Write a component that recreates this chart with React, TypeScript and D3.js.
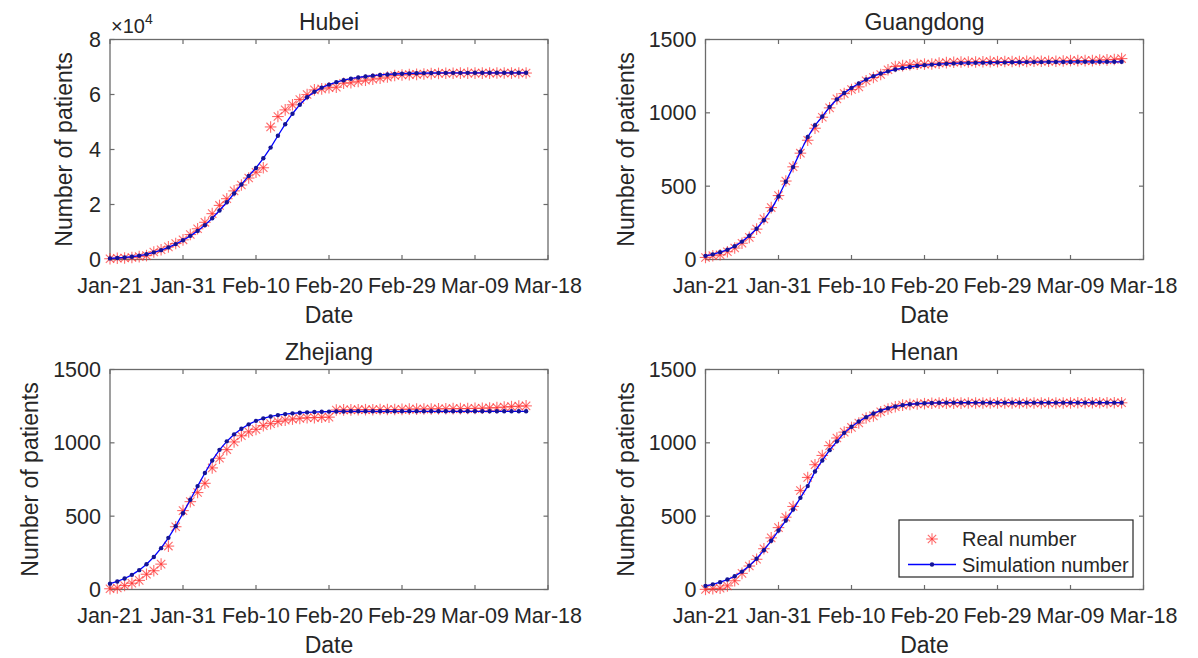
import React from "react";
import * as d3 from "d3";

// ---------- data (day index 0 = Jan-21) ----------
const xTickValues = [0, 10, 20, 30, 40, 50, 60];
const xTickLabels = ["Jan-21", "Jan-31", "Feb-10", "Feb-20", "Feb-29", "Mar-09", "Mar-18"];

const hubeiReal = [270, 444, 549, 729, 1052, 1423, 2714, 3554, 4586, 5806, 7153, 9074, 11177, 13522, 16678, 19665, 22112, 24953, 27100, 29631, 31728, 33366, 48206, 51986, 54406, 56249, 58182, 59989, 61682, 62031, 62442, 62662, 64084, 64287, 64786, 65187, 65596, 65914, 66337, 66907, 67103, 67217, 67332, 67466, 67592, 67666, 67707, 67743, 67760, 67773, 67781, 67786, 67790, 67794, 67798, 67799, 67800, 67800];
const hubeiSim = [400, 550, 750, 1000, 1400, 1900, 2600, 3400, 4400, 5600, 7000, 8600, 10400, 12500, 15000, 17800, 20800, 24000, 27300, 30400, 33300, 36800, 40700, 45000, 49200, 53000, 56300, 59000, 61000, 62500, 63600, 64500, 65200, 65750, 66200, 66550, 66850, 67100, 67300, 67450, 67570, 67660, 67730, 67780, 67820, 67850, 67860, 67870, 67875, 67880, 67885, 67888, 67890, 67892, 67894, 67896, 67898, 67900];

const guangdongReal = [14, 26, 32, 53, 78, 111, 151, 207, 277, 354, 436, 535, 632, 725, 813, 895, 970, 1034, 1095, 1131, 1159, 1177, 1219, 1241, 1261, 1294, 1316, 1322, 1328, 1331, 1332, 1333, 1339, 1342, 1345, 1347, 1347, 1347, 1348, 1349, 1349, 1350, 1350, 1350, 1351, 1352, 1352, 1352, 1352, 1353, 1356, 1356, 1356, 1356, 1360, 1361, 1364, 1370];
const guangdongSim = [25, 35, 50, 66, 90, 122, 162, 210, 268, 340, 430, 530, 630, 735, 835, 915, 975, 1040, 1092, 1135, 1170, 1200, 1227, 1250, 1268, 1283, 1295, 1305, 1313, 1320, 1325, 1329, 1332, 1335, 1337, 1339, 1340, 1341, 1342, 1343, 1344, 1344, 1345, 1345, 1346, 1346, 1346, 1347, 1347, 1347, 1347, 1348, 1348, 1348, 1348, 1348, 1348, 1348];

const zhejiangReal = [5, 10, 27, 43, 62, 104, 128, 173, 296, 428, 538, 599, 661, 724, 829, 895, 954, 1006, 1048, 1075, 1092, 1117, 1131, 1145, 1155, 1162, 1167, 1171, 1172, 1174, 1175, 1224, 1225, 1225, 1226, 1226, 1226, 1227, 1227, 1227, 1228, 1230, 1230, 1231, 1231, 1232, 1232, 1233, 1233, 1234, 1235, 1236, 1238, 1240, 1244, 1247, 1250, 1252];
const zhejiangSim = [40, 55, 75, 100, 132, 172, 222, 282, 352, 432, 520, 612, 705, 794, 880, 952, 1010, 1058, 1096, 1126, 1150, 1167, 1180, 1189, 1196, 1201, 1205, 1208, 1210, 1212, 1213, 1214, 1214, 1215, 1215, 1215, 1215, 1215, 1215, 1215, 1215, 1215, 1215, 1215, 1215, 1215, 1215, 1215, 1215, 1215, 1215, 1215, 1215, 1215, 1215, 1215, 1215, 1215];

const henanReal = [1, 5, 9, 25, 60, 110, 160, 206, 278, 352, 422, 493, 566, 675, 764, 851, 914, 981, 1033, 1073, 1105, 1135, 1169, 1184, 1212, 1231, 1246, 1257, 1262, 1265, 1267, 1270, 1271, 1271, 1271, 1271, 1272, 1272, 1272, 1272, 1272, 1272, 1272, 1272, 1272, 1272, 1272, 1272, 1272, 1272, 1272, 1273, 1273, 1273, 1273, 1273, 1273, 1273];
const henanSim = [25, 35, 50, 68, 90, 122, 162, 210, 268, 332, 402, 470, 545, 625, 705, 805, 880, 950, 1010, 1068, 1110, 1145, 1175, 1200, 1220, 1236, 1248, 1257, 1263, 1267, 1270, 1272, 1273, 1274, 1274, 1274, 1274, 1274, 1274, 1274, 1274, 1274, 1274, 1274, 1274, 1274, 1274, 1274, 1274, 1274, 1274, 1274, 1274, 1274, 1274, 1274, 1274, 1274];

const hubeiTicks = [0, 20000, 40000, 60000, 80000];
const provinceTicks = [0, 500, 1000, 1500];

const legendLabels = ["Real number", "Simulation number"];

// ---------- layout ----------
const W = 1198;
const H = 658;
const AW = 438;
const AH = 220;
const FONT = "'Liberation Sans', Arial, Helvetica, sans-serif";
const TXT = "#262626";
const AXC = "#6b6b6b";
const RED = "#ff3030";
const BLUE = "#0000ff";
const DOT = "#141496";
const TICK_FS = 21.5;
const LABEL_FS = 23;

type Panel = {
  title: string;
  real: number[];
  sim: number[];
  yMax: number;
  yTicks: number[];
  fmt: (v: number) => string;
  exponent: boolean;
  left: number;
  top: number;
  ylabelOffset: number;
  legend: boolean;
};

const panels: Panel[] = [
  { title: "Hubei", real: hubeiReal, sim: hubeiSim, yMax: 80000, yTicks: hubeiTicks, fmt: (v) => String(v / 10000), exponent: true, left: 110, top: 39.5, ylabelOffset: 38, legend: false },
  { title: "Guangdong", real: guangdongReal, sim: guangdongSim, yMax: 1500, yTicks: provinceTicks, fmt: (v) => String(v), exponent: false, left: 705.5, top: 39.5, ylabelOffset: 72, legend: false },
  { title: "Zhejiang", real: zhejiangReal, sim: zhejiangSim, yMax: 1500, yTicks: provinceTicks, fmt: (v) => String(v), exponent: false, left: 110, top: 369.5, ylabelOffset: 72, legend: false },
  { title: "Henan", real: henanReal, sim: henanSim, yMax: 1500, yTicks: provinceTicks, fmt: (v) => String(v), exponent: false, left: 705.5, top: 369.5, ylabelOffset: 72, legend: true },
];

function Asterisk({ x, y, s = 5.8 }: { x: number; y: number; s?: number }) {
  const d = s * 0.72;
  return (
    <g stroke={RED} strokeWidth={1.1} strokeOpacity={0.72}>
      <line x1={x - s} y1={y} x2={x + s} y2={y} />
      <line x1={x} y1={y - s} x2={x} y2={y + s} />
      <line x1={x - d} y1={y - d} x2={x + d} y2={y + d} />
      <line x1={x - d} y1={y + d} x2={x + d} y2={y - d} />
    </g>
  );
}

function Subplot({ p }: { p: Panel }) {
  const x = d3.scaleLinear().domain([0, 60]).range([p.left, p.left + AW]);
  const y = d3.scaleLinear().domain([0, p.yMax]).range([p.top + AH, p.top]);
  const line = d3
    .line<number>()
    .x((_, i) => x(i))
    .y((v) => y(v));
  const bottom = p.top + AH;
  const right = p.left + AW;
  const tl = 4.5;
  return (
    <g>
      <rect x={p.left} y={p.top} width={AW} height={AH} fill="#fff" stroke={AXC} strokeWidth={1.3} />
      {xTickValues.map((t, i) => (
        <g key={"xt" + i}>
          <line x1={x(t)} x2={x(t)} y1={bottom} y2={bottom - tl} stroke={AXC} strokeWidth={1.2} />
          <line x1={x(t)} x2={x(t)} y1={p.top} y2={p.top + tl} stroke={AXC} strokeWidth={1.2} />
          <text x={x(t)} y={bottom + 33} textAnchor="middle" fontSize={TICK_FS} fill={TXT} fontFamily={FONT}>
            {xTickLabels[i]}
          </text>
        </g>
      ))}
      {p.yTicks.map((t, i) => (
        <g key={"yt" + i}>
          <line x1={p.left} x2={p.left + tl} y1={y(t)} y2={y(t)} stroke={AXC} strokeWidth={1.2} />
          <line x1={right} x2={right - tl} y1={y(t)} y2={y(t)} stroke={AXC} strokeWidth={1.2} />
          <text x={p.left - 9} y={y(t) + 7.5} textAnchor="end" fontSize={TICK_FS} fill={TXT} fontFamily={FONT}>
            {p.fmt(t)}
          </text>
        </g>
      ))}
      {p.exponent && (
        <text x={p.left + 1} y={p.top - 6.5} fontSize={20} fill={TXT} fontFamily={FONT}>
          ×10
          <tspan fontSize={14} dy={-9}>4</tspan>
        </text>
      )}
      {p.real.map((v, i) => (
        <Asterisk key={"r" + i} x={x(i)} y={y(v)} />
      ))}
      <path d={line(p.sim) || ""} fill="none" stroke={BLUE} strokeWidth={1.3} />
      {p.sim.map((v, i) => (
        <circle key={"s" + i} cx={x(i)} cy={y(v)} r={2.2} fill={DOT} />
      ))}
      <text x={(p.left + right) / 2} y={p.top - 9.5} textAnchor="middle" fontSize={LABEL_FS} fill={TXT} fontFamily={FONT}>
        {p.title}
      </text>
      <text x={(p.left + right) / 2} y={bottom + 63} textAnchor="middle" fontSize={LABEL_FS} fill={TXT} fontFamily={FONT}>
        Date
      </text>
      <text
        transform={`translate(${p.left - p.ylabelOffset},${p.top + AH / 2}) rotate(-90)`}
        textAnchor="middle"
        fontSize={LABEL_FS}
        fill={TXT}
        fontFamily={FONT}
      >
        Number of patients
      </text>
      {p.legend && (
        <g>
          <rect x={899} y={520} width={234} height={57} fill="#fff" stroke="#262626" strokeWidth={1.2} />
          <Asterisk x={932} y={539} />
          <text x={962} y={546} fontSize={20} fill={TXT} fontFamily={FONT}>
            {legendLabels[0]}
          </text>
          <line x1={908} x2={956} y1={564.5} y2={564.5} stroke={BLUE} strokeWidth={1.3} />
          <circle cx={932} cy={564.5} r={2.2} fill={DOT} />
          <text x={962} y={571.5} fontSize={20} fill={TXT} fontFamily={FONT}>
            {legendLabels[1]}
          </text>
        </g>
      )}
    </g>
  );
}

export default function App() {
  return (
    <svg
      width={W}
      height={H}
      viewBox={`0 0 ${W} ${H}`}
      style={{ position: "absolute", left: 0, top: 0, display: "block", background: "#fff" }}
    >
      <rect x={0} y={0} width={W} height={H} fill="#fff" />
      {panels.map((p) => (
        <Subplot key={p.title} p={p} />
      ))}
    </svg>
  );
}
